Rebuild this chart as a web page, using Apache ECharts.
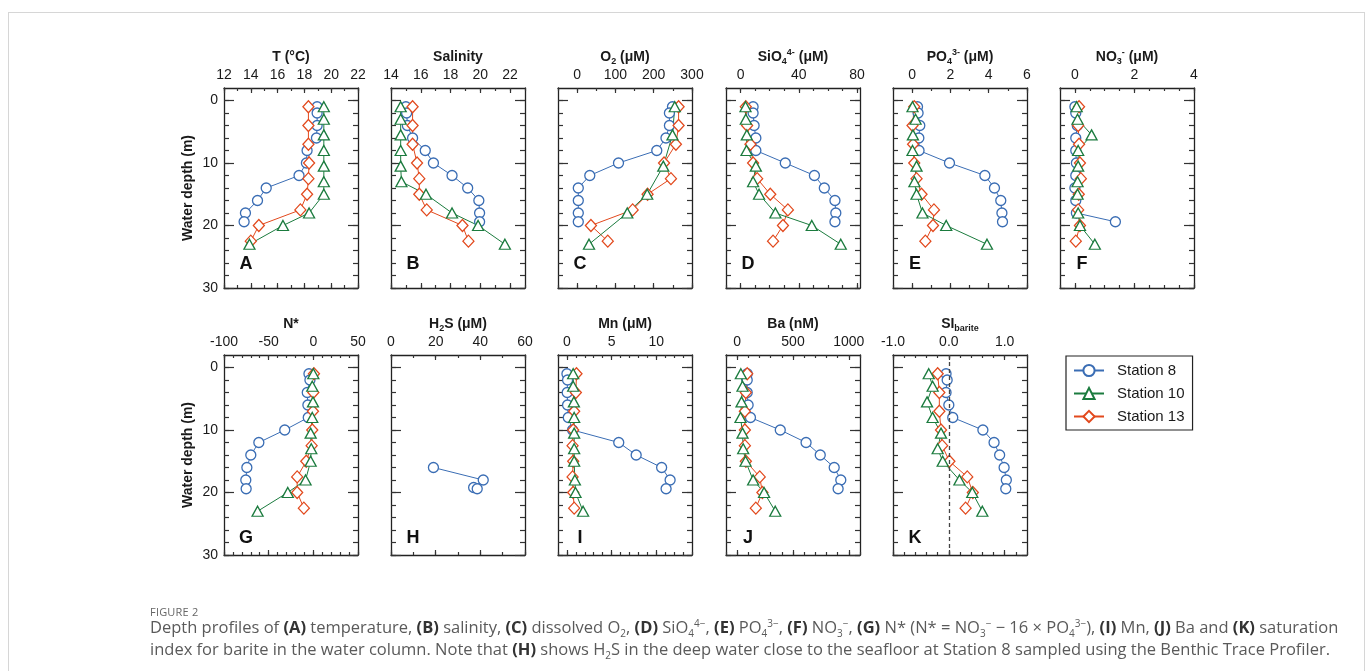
<!DOCTYPE html>
<html>
<head>
<meta charset="utf-8">
<script src="https://cdn.jsdelivr.net/npm/echarts@6/dist/echarts.min.js"></script>
<style>
  html, body { margin: 0; padding: 0; background: #fff; }
  #wrap { position: relative; width: 1372px; height: 671px; overflow: hidden; }
  #frame { position: absolute; left: 8px; top: 12px; width: 1355px; height: 720px; border: 1px solid #d6d6d6; }
  #chart { position: absolute; left: 0; top: 0; width: 1372px; height: 671px; }
  #cap { position: absolute; left: 150px; top: 605px; width: 1215px; font-family: 'Open Sans', sans-serif; color: #5a5a5a; }
  #cap .fig { font-size: 11px; color: #666; letter-spacing: 0.2px; line-height: 14px; }
  #cap .txt { font-size: 16.5px; line-height: 22px; margin-top: -3px; white-space: nowrap; }
  #cap b { color: #333; }
  #cap sub, #cap sup { font-size: 10px; line-height: 0; }
</style>
</head>
<body>
<div id="wrap">
  <div id="frame"></div>
  <div id="chart"></div>
  <div id="cap">
    <div class="fig">FIGURE 2</div>
    <div class="txt">Depth profiles of <b>(A)</b> temperature, <b>(B)</b> salinity, <b>(C)</b> dissolved O<sub>2</sub>, <b>(D)</b> SiO<sub>4</sub><sup>4−</sup>, <b>(E)</b> PO<sub>4</sub><sup>3−</sup>, <b>(F)</b> NO<sub>3</sub><sup>−</sup>, <b>(G)</b> N* (N* = NO<sub>3</sub><sup>−</sup> − 16 × PO<sub>4</sub><sup>3−</sup>), <b>(I)</b> Mn, <b>(J)</b> Ba and <b>(K)</b> saturation<br>index for barite in the water column. Note that <b>(H)</b> shows H<sub>2</sub>S in the deep water close to the seafloor at Station 8 sampled using the Benthic Trace Profiler.</div>
  </div>
</div>
<script>
  // sampling depths (m)
  const depth8 = [1, 2, 4, 6, 8, 10, 12, 14, 16, 18, 19.4]
  const depth10 = [1, 3, 5.5, 8, 10.5, 13, 15, 18, 20, 23]
  const depth13 = [1, 4, 7, 10, 12.5, 15, 17.5, 20, 22.5]
  const depth10O2 = [1, 5.5, 10.5, 15, 18, 23]
  const depth8H2S = [16, 18, 19.2, 19.4]

  // A temperature
  const t8 = [18.95, 18.95, 18.95, 18.9, 18.2, 18.15, 17.6, 15.15, 14.5, 13.6, 13.5]
  const t10 = [19.45, 19.45, 19.45, 19.45, 19.45, 19.45, 19.45, 18.35, 16.4, 13.9]
  const t13 = [18.3, 18.3, 18.3, 18.35, 18.3, 18.2, 17.7, 14.6, 14.0]
  // B salinity
  const sal8 = [15.0, 15.05, 15.1, 15.45, 16.3, 16.85, 18.1, 19.15, 19.9, 19.95, 19.95]
  const sal10 = [14.65, 14.65, 14.65, 14.65, 14.65, 14.7, 16.35, 18.1, 19.85, 21.65]
  const sal13 = [15.45, 15.45, 15.45, 15.75, 15.9, 15.9, 16.4, 18.8, 19.2]
  // C O2
  const o2_8 = [249, 241, 241, 232, 208, 108, 33, 3, 3, 3, 3]
  const o2_10 = [255, 249, 225, 183, 131, 31]
  const o2_13 = [265, 265, 258, 227, 245, 184, 145, 36, 80]
  // D SiO4
  const si8 = [8.6, 8.6, 9.3, 10.5, 10.5, 30.7, 50.7, 57.5, 64.8, 65.4, 64.8]
  const si10 = [3.4, 3.6, 4.3, 4.1, 10.5, 8.6, 12.7, 23.9, 48.9, 68.8]
  const si13 = [3.6, 4.5, 6.8, 8.6, 11.4, 20.4, 32.5, 29.1, 22.3]
  // E PO4
  const po8 = [0.28, 0.31, 0.4, 0.35, 0.36, 1.95, 3.8, 4.3, 4.63, 4.69, 4.72]
  const po10 = [0.02, 0.18, 0.04, 0.02, 0.23, 0.12, 0.23, 0.54, 1.78, 3.91]
  const po13 = [0.11, 0.02, 0.05, 0.11, 0.23, 0.49, 1.14, 1.09, 0.69]
  // F NO3
  const no8 = [0.0, 0.03, 0.08, 0.03, 0.03, 0.05, 0.03, 0.0, 0.03, 0.05, 1.36]
  const no10 = [0.06, 0.09, 0.56, 0.11, 0.11, 0.09, 0.09, 0.11, 0.17, 0.67]
  const no13 = [0.14, 0.11, 0.14, 0.17, 0.2, 0.13, 0.11, 0.17, 0.03]
  // G N*
  const ns8 = [-4.9, -3.8, -6.8, -6.1, -5.7, -32, -61, -70, -74.4, -75.6, -75.2]
  const ns10 = [0, -1.2, -0.4, -1.2, -3, -2.3, -3, -8.7, -28.6, -62.4]
  const ns13 = [0.7, 0, -0.4, -1.2, -1.9, -7.9, -18.1, -18.1, -10.6]
  // H H2S
  const h2s8 = [19, 41.3, 37, 38.6]
  // I Mn
  const mn8 = [0, 0.07, 0.03, 0.07, 0.15, 0.63, 5.8, 7.75, 10.6, 11.55, 11.1]
  const mn10 = [0.7, 0.7, 0.78, 0.81, 0.81, 0.81, 0.81, 0.89, 0.96, 1.81]
  const mn13 = [1.07, 1.0, 0.81, 0.7, 0.63, 0.7, 0.63, 0.7, 0.81]
  // J Ba
  const ba8 = [90, 90, 90, 98, 119, 386, 617, 744, 869, 928, 904]
  const ba10 = [33, 48, 39, 30, 48, 54, 75, 143, 241, 341]
  const ba13 = [90, 78, 69, 69, 69, 78, 202, 226, 167]
  // K SI barite
  const sib8 = [-0.05, -0.03, -0.05, 0.0, 0.07, 0.61, 0.81, 0.91, 0.99, 1.03, 1.02]
  const sib10 = [-0.36, -0.29, -0.39, -0.29, -0.14, -0.2, -0.11, 0.19, 0.42, 0.6]
  const sib13 = [-0.2, -0.17, -0.17, -0.14, -0.12, 0.01, 0.33, 0.43, 0.3]

  const depthLabels = [0, 10, 20, 30]
  const stations = ['Station 8', 'Station 10', 'Station 13']

  const F = '"Liberation Sans", Arial, sans-serif'
  const INK = '#1a1a1a'
  const C8 = '#3a6db4', C10 = '#1b7b3e', C13 = '#e2491d'

  function steps(a, b, s) {
    let out = []
    for (let v = a; v <= b + 1e-9; v += s) out.push(Math.round(v * 1000) / 1000)
    return out
  }
  const plain = v => String(v)

  const R1 = 88, R2 = 355
  const panels = [
    { key: 'A', left: 224, top: R1, name: '{b|T (°C)}', min: 12, max: 22, labels: steps(12, 22, 2), minor: steps(12, 22, 1),
      s8: [depth8, t8], s10: [depth10, t10], s13: [depth13, t13] },
    { key: 'B', left: 391, top: R1, name: '{b|Salinity}', min: 14, max: 23, labels: steps(14, 22, 2), minor: steps(14, 23, 1),
      s8: [depth8, sal8], s10: [depth10, sal10], s13: [depth13, sal13] },
    { key: 'C', left: 558, top: R1, name: '{b|O}{sub|2}{b| (μM)}', min: -50, max: 300, labels: [0, 100, 200, 300], minor: steps(-50, 300, 50),
      s8: [depth8, o2_8], s10: [depth10O2, o2_10], s13: [depth13, o2_13] },
    { key: 'D', left: 726, top: R1, name: '{b|SiO}{sub|4}{sup|4-}{b| (μM)}', min: -10, max: 82, labels: [0, 40, 80], minor: steps(-10, 80, 10),
      s8: [depth8, si8], s10: [depth10, si10], s13: [depth13, si13] },
    { key: 'E', left: 893, top: R1, name: '{b|PO}{sub|4}{sup|3-}{b| (μM)}', min: -1, max: 6, labels: [0, 2, 4, 6], minor: steps(-1, 6, 1),
      s8: [depth8, po8], s10: [depth10, po10], s13: [depth13, po13] },
    { key: 'F', left: 1060, top: R1, name: '{b|NO}{sub|3}{sup|-}{b| (μM)}', min: -0.5, max: 4, labels: [0, 2, 4], minor: steps(-0.5, 4, 0.5),
      s8: [depth8, no8], s10: [depth10, no10], s13: [depth13, no13] },
    { key: 'G', left: 224, top: R2, name: '{b|N*}', min: -100, max: 50, labels: [-100, -50, 0, 50], minor: steps(-100, 50, 10),
      s8: [depth8, ns8], s10: [depth10, ns10], s13: [depth13, ns13] },
    { key: 'H', left: 391, top: R2, name: '{b|H}{sub|2}{b|S (μM)}', min: 0, max: 60, labels: [0, 20, 40, 60], minor: steps(0, 60, 10),
      s8: [depth8H2S, h2s8] },
    { key: 'I', left: 558, top: R2, name: '{b|Mn (μM)}', min: -1, max: 14, labels: [0, 5, 10], minor: steps(-1, 14, 1),
      s8: [depth8, mn8], s10: [depth10, mn10], s13: [depth13, mn13] },
    { key: 'J', left: 726, top: R2, name: '{b|Ba (nM)}', min: -100, max: 1100, labels: [0, 500, 1000], minor: steps(-100, 1100, 100),
      s8: [depth8, ba8], s10: [depth10, ba10], s13: [depth13, ba13] },
    { key: 'K', left: 893, top: R2, name: '{b|SI}{sub|barite}', min: -1, max: 1.4, labels: [-1, 0, 1], minor: steps(-1, 1.4, 0.2),
      fmt: v => v.toFixed(1), zeroLine: true,
      s8: [depth8, sib8], s10: [depth10, sib10], s13: [depth13, sib13] }
  ]

  const RICH = {
    b: { fontSize: 14, fontWeight: 'bold', fontFamily: F, color: INK, lineHeight: 18 },
    sub: { fontSize: 9, fontWeight: 'bold', fontFamily: F, color: INK, lineHeight: 9, verticalAlign: 'bottom' },
    sup: { fontSize: 9, fontWeight: 'bold', fontFamily: F, color: INK, lineHeight: 9, verticalAlign: 'top' }
  }
  const boxLine = { color: '#222', width: 1.3 }
  const tickLine = { color: '#333', width: 1.2 }

  let grids = [], xAxis = [], yAxis = [], series = [], graphic = []

  panels.forEach((p, i) => {
    grids.push({ left: p.left, top: p.top, width: 134, height: 200 })
    const xi = xAxis.length, yi = yAxis.length
    const xb = { gridIndex: i, type: 'value', min: p.min, max: p.max, splitLine: { show: false } }
    const yb = { gridIndex: i, type: 'value', min: -2, max: 30, inverse: true, splitLine: { show: false } }
    const first = p.key === 'A' || p.key === 'G'

    // top / bottom x axes, major + minor ticks
    xAxis.push({
      ...xb, position: 'top',
      axisLine: { show: true, onZero: false, lineStyle: boxLine },
      axisTick: { show: true, inside: true, length: 5, customValues: p.labels, lineStyle: tickLine },
      axisLabel: { show: true, margin: 6, customValues: p.labels, formatter: p.fmt || plain, color: INK, fontSize: 14, fontFamily: F },
      name: p.name, nameLocation: 'middle', nameGap: 22, nameTextStyle: { rich: RICH }
    })
    xAxis.push({ ...xb, position: 'top', axisLine: { show: false, onZero: false },
      axisTick: { show: true, inside: true, length: 3, customValues: p.minor, lineStyle: tickLine }, axisLabel: { show: false } })
    xAxis.push({ ...xb, position: 'bottom', axisLine: { show: true, onZero: false, lineStyle: boxLine },
      axisTick: { show: true, inside: true, length: 5, customValues: p.labels, lineStyle: tickLine }, axisLabel: { show: false } })
    xAxis.push({ ...xb, position: 'bottom', axisLine: { show: false, onZero: false },
      axisTick: { show: true, inside: true, length: 3, customValues: p.minor, lineStyle: tickLine }, axisLabel: { show: false } })

    // left / right depth axes
    yAxis.push({
      ...yb, position: 'left',
      axisLine: { show: true, onZero: false, lineStyle: boxLine },
      axisTick: { show: true, inside: true, length: 10, customValues: depthLabels, lineStyle: tickLine },
      axisLabel: { show: first, margin: 6, customValues: depthLabels, formatter: plain, color: INK, fontSize: 14, fontFamily: F },
      name: first ? 'Water depth (m)' : '', nameLocation: 'middle', nameGap: 29, nameRotate: 90,
      nameTextStyle: { fontSize: 14, fontWeight: 'bold', fontFamily: F, color: INK }
    })
    yAxis.push({ ...yb, position: 'left', axisLine: { show: false, onZero: false },
      axisTick: { show: true, inside: true, length: 5, customValues: steps(0, 30, 2), lineStyle: tickLine }, axisLabel: { show: false } })
    yAxis.push({ ...yb, position: 'right', axisLine: { show: true, onZero: false, lineStyle: boxLine },
      axisTick: { show: true, inside: true, length: 10, customValues: depthLabels, lineStyle: tickLine }, axisLabel: { show: false } })
    yAxis.push({ ...yb, position: 'right', axisLine: { show: false, onZero: false },
      axisTick: { show: true, inside: true, length: 5, customValues: steps(0, 30, 2), lineStyle: tickLine }, axisLabel: { show: false } })

    const mk = (nm, pair, color, symbol, size) => ({
      name: nm, type: 'line', xAxisIndex: xi, yAxisIndex: yi,
      data: pair[0].map((d, k) => [pair[1][k], d]),
      symbol: symbol, symbolSize: size, showSymbol: true,
      lineStyle: { color: color, width: 1 },
      itemStyle: { color: '#fff', borderColor: color, borderWidth: 1.3 },
      emphasis: { disabled: true }, animation: false, z: 3
    })
    const s8 = mk(stations[0], p.s8, C8, 'circle', 10)
    if (p.zeroLine) {
      s8.markLine = { silent: true, symbol: ['none', 'none'], label: { show: false },
        lineStyle: { type: [4, 3], color: '#444', width: 1.3 }, data: [{ xAxis: 0 }], animation: false }
    }
    series.push(s8)
    if (p.s13) series.push(mk(stations[2], p.s13, C13, 'diamond', [11, 12]))
    if (p.s10) series.push(mk(stations[1], p.s10, C10, 'triangle', [11, 10]))

    graphic.push({ type: 'text', x: p.left + 22, y: p.top === R1 ? 264 : 538,
      style: { text: p.key, font: 'bold 18px ' + F, fill: '#111', align: 'center', verticalAlign: 'middle' } })
  })

  const chart = echarts.init(document.getElementById('chart'), null, { renderer: 'canvas' })
  chart.setOption({
    animation: false,
    grid: grids,
    xAxis: xAxis,
    yAxis: yAxis,
    series: series,
    graphic: graphic,
    legend: {
      data: stations, orient: 'vertical', left: 1066, top: 356,
      borderColor: '#222', borderWidth: 1.2, borderRadius: 0,
      padding: [6, 8, 5, 7], itemGap: 6, itemWidth: 30, itemHeight: 14,
      textStyle: { fontSize: 15, fontFamily: F, color: INK, lineHeight: 17, padding: [0, 0, 0, 8] },
      selectedMode: false
    }
  })
</script>
</body>
</html>
